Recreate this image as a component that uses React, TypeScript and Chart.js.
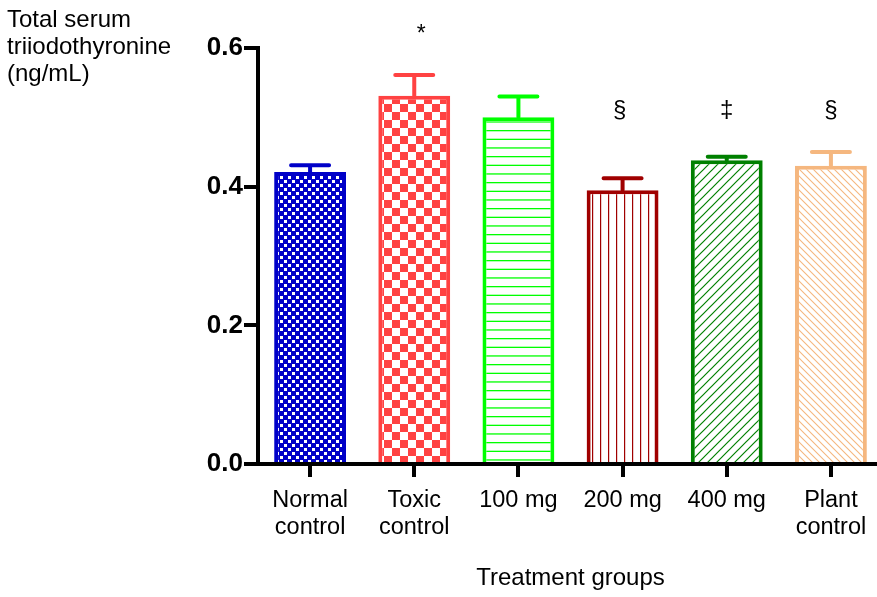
import React, { useEffect, useRef } from "react";
import { Chart, registerables } from "chart.js";

Chart.register(...registerables);

const categories: (string | string[])[] = [
  ["Normal", "control"],
  ["Toxic", "control"],
  "100 mg",
  "200 mg",
  "400 mg",
  ["Plant", "control"],
];
const means = [0.421, 0.531, 0.5, 0.395, 0.438, 0.43];
const sem = [0.01, 0.03, 0.03, 0.017, 0.005, 0.02];
const marks = ["", "*", "", "§", "‡", "§"];
const markLevels: (number | null)[] = [null, 0.61, null, 0.5, 0.5, 0.5];
const markShift = [0, 7, 0, -3, 0, 0];
const yTitleLines = ["Total serum", "triiodothyronine", "(ng/mL)"];
const xTitle = "Treatment groups";

const borderColors = ["#0000C8", "#FF4242", "#00FF00", "#A00000", "#008000", "#F5B77F"];
const FONT = "'Liberation Sans', Arial, sans-serif";

function makeTile(w: number, h: number, draw: (c: CanvasRenderingContext2D) => void) {
  const cv = document.createElement("canvas");
  cv.width = w;
  cv.height = h;
  const c = cv.getContext("2d")!;
  draw(c);
  return cv;
}

function makePatterns(ctx: CanvasRenderingContext2D) {
  const tiles = [
    makeTile(8, 8, (c) => {
      c.fillStyle = borderColors[0];
      c.fillRect(0, 0, 8, 8);
      c.fillStyle = "#fff";
      c.fillRect(0, 0, 3, 3);
      c.fillRect(4, 4, 3, 3);
    }),
    makeTile(16, 16, (c) => {
      c.fillStyle = borderColors[1];
      c.fillRect(0, 0, 16, 16);
      c.fillStyle = "#fff";
      c.fillRect(0, 0, 8, 8);
      c.fillRect(8, 8, 8, 8);
    }),
    makeTile(9, 26, (c) => {
      c.fillStyle = "#fff";
      c.fillRect(0, 0, 9, 26);
      c.fillStyle = borderColors[2];
      c.fillRect(0, 0, 9, 1.3);
      c.fillRect(0, 8.7, 9, 1.3);
      c.fillRect(0, 17.3, 9, 1.3);
    }),
    makeTile(8, 8, (c) => {
      c.fillStyle = "#fff";
      c.fillRect(0, 0, 8, 8);
      c.fillStyle = borderColors[3];
      c.fillRect(0, 0, 1.2, 8);
    }),
    makeTile(9, 9, (c) => {
      c.fillStyle = "#fff";
      c.fillRect(0, 0, 9, 9);
      c.strokeStyle = borderColors[4];
      c.lineWidth = 1.2;
      c.beginPath();
      c.moveTo(-1, 10);
      c.lineTo(10, -1);
      c.moveTo(-1, 1);
      c.lineTo(1, -1);
      c.moveTo(8, 10);
      c.lineTo(10, 8);
      c.stroke();
    }),
    makeTile(7, 7, (c) => {
      c.fillStyle = "#fff";
      c.fillRect(0, 0, 7, 7);
      c.strokeStyle = borderColors[5];
      c.lineWidth = 1.1;
      c.beginPath();
      c.moveTo(-1, -1);
      c.lineTo(8, 8);
      c.moveTo(6, -1);
      c.lineTo(8, 1);
      c.moveTo(-1, 6);
      c.lineTo(1, 8);
      c.stroke();
    }),
  ];
  return tiles.map((t) => ctx.createPattern(t, "repeat") as CanvasPattern);
}

const overlayPlugin = {
  id: "overlay",
  afterDatasetsDraw(chart: any) {
    const ctx: CanvasRenderingContext2D = chart.ctx;
    const meta = chart.getDatasetMeta(0);
    const yScale = chart.scales.y;
    ctx.save();
    meta.data.forEach((el: any, i: number) => {
      const top = yScale.getPixelForValue(means[i] + sem[i]);
      ctx.strokeStyle = borderColors[i];
      ctx.lineWidth = 4;
      ctx.lineCap = "round";
      ctx.beginPath();
      ctx.moveTo(el.x, el.y);
      ctx.lineTo(el.x, top);
      ctx.moveTo(el.x - 19, top);
      ctx.lineTo(el.x + 19, top);
      ctx.stroke();
    });
    ctx.fillStyle = "#000";
    ctx.textAlign = "center";
    ctx.textBaseline = "alphabetic";
    meta.data.forEach((el: any, i: number) => {
      const lvl = markLevels[i];
      if (lvl == null || !marks[i]) return;
      ctx.font = `${marks[i] === "*" ? 23 : 24}px ${FONT}`;
      ctx.fillText(marks[i], el.x + markShift[i], yScale.getPixelForValue(lvl));
    });
    ctx.font = `24px ${FONT}`;
    ctx.textAlign = "left";
    yTitleLines.forEach((line, k) => {
      ctx.fillText(line, 7, 27 + k * 27);
    });
    ctx.restore();
  },
};

export default function App() {
  const ref = useRef<HTMLCanvasElement>(null);
  useEffect(() => {
    const canvas = ref.current!;
    const ctx = canvas.getContext("2d")!;
    const patterns = makePatterns(ctx);
    const chart = new Chart(canvas, {
      type: "bar",
      data: {
        labels: categories,
        datasets: [
          {
            data: means,
            backgroundColor: patterns,
            borderColor: borderColors,
            borderWidth: 4,
            barPercentage: 0.69,
            categoryPercentage: 1,
          },
        ],
      },
      options: {
        animation: false,
        responsive: false,
        devicePixelRatio: 1,
        layout: { padding: { top: 48, right: 7, left: 0, bottom: 0 } },
        plugins: { legend: { display: false }, tooltip: { enabled: false } },
        scales: {
          x: {
            offset: true,
            afterFit: (s: any) => {
              s.height = 133;
            },
            border: { display: true, width: 4, color: "#000" },
            grid: {
              offset: false,
              drawOnChartArea: false,
              drawTicks: true,
              tickLength: 13,
              lineWidth: 4,
              color: "#000",
            },
            ticks: {
              color: "#000",
              font: { family: FONT, size: 23.5, lineHeight: 1.15 },
              padding: 10,
              maxRotation: 0,
              autoSkip: false,
            },
            title: {
              display: true,
              text: xTitle,
              color: "#000",
              font: { family: FONT, size: 24 },
              padding: { top: 0, bottom: 4 },
            },
          },
          y: {
            min: 0,
            max: 0.6,
            afterFit: (s: any) => {
              s.width = 258;
            },
            border: { display: true, width: 4, color: "#000" },
            grid: {
              drawOnChartArea: false,
              drawTicks: true,
              tickLength: 14,
              lineWidth: 4,
              color: "#000",
            },
            ticks: {
              stepSize: 0.2,
              color: "#000",
              padding: 1,
              font: { family: FONT, size: 26, weight: "bold" },
              callback: (v: any) => Number(v).toFixed(1),
            },
          },
        },
      },
      plugins: [overlayPlugin],
    });
    return () => chart.destroy();
  }, []);
  return (
    <div
      style={{
        position: "absolute",
        left: 0,
        top: 0,
        width: 877,
        height: 597,
        overflow: "hidden",
        background: "#fff",
      }}
    >
      <canvas ref={ref} width={890} height={597} style={{ display: "block" }} />
    </div>
  );
}
